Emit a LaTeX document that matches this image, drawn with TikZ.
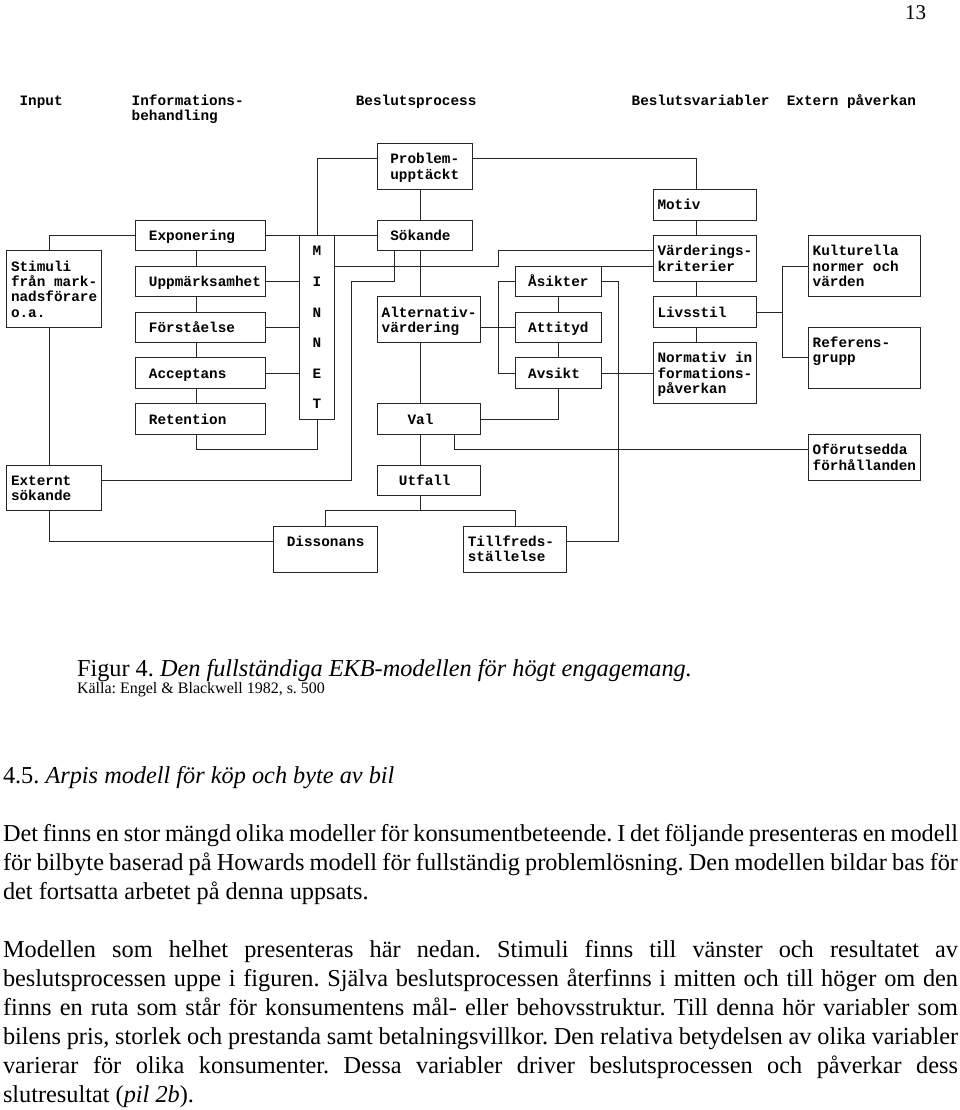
\documentclass[tikz,border=0pt]{standalone}
\usepackage{fontspec}
\setmainfont{Liberation Serif}
\newfontfamily\bodyfont{Liberation Serif}
\newfontfamily\cfont{Liberation Mono}
\frenchspacing
\newcommand\cx[1]{11+8.62*#1}
\newcommand\ry[1]{159+15.3*#1}
\newcommand\by[1]{164+15.3*#1}
\tikzset{
  bbox/.style={draw=black!85,line width=1pt,rectangle,anchor=north west,inner sep=0pt,outer sep=0pt},
  ctext/.style={anchor=base west,inner sep=0pt,outer sep=0pt,text=black,font=\cfont\bfseries\fontsize{14.36pt}{15.3pt}\selectfont},
  btext/.style={anchor=base west,inner sep=0pt,outer sep=0pt,text=black,font=\bodyfont\frenchspacing\fontsize{24.3pt}{29pt}\selectfont},
  conn/.style={draw=black!85,line width=1pt},
}
% name, x, y, width in columns, height in rows
\newcommand\bxa[5]{\node[bbox,minimum width={8.62pt*#4},minimum height={15.3pt*#5}] (#1) at (#2,#3) {};}
\newcommand\bx[5]{\bxa{#1}{\cx{#2}}{\ry{#3}}{#4}{#5}}
\newcommand\tx[4]{\node[ctext] (#1) at (\cx{#2},\by{#3}) {#4};}
\begin{document}
\begin{tikzpicture}[x=1pt,y=-1pt]
\fill[white] (0,0) rectangle (960,1110);
\useasboundingbox (0,0) rectangle (960,1110);
% grid coordinates
\foreach \r in {0,...,27} {\coordinate (R\r) at (0,\ry{\r});}
\foreach \c in {4,21,35,36,39,44,47,51,56,58,63,70,79,89} {\coordinate (X\c) at (\cx{\c.5},0);}
% page number
\node[anchor=base west,inner sep=0pt,font=\fontsize{21pt}{24pt}\selectfont] (pg) at (905,20) {13};
% header
\node[ctext] (h1) at (\cx{1},106) {Input};
\node[ctext] (h2) at (\cx{14},106) {Informations-};
\node[ctext] (h2b) at (\cx{14},121) {behandling};
\node[ctext] (h3) at (\cx{40},106) {Beslutsprocess};
\node[ctext] (h4) at (\cx{72},106) {Beslutsvariabler};
\node[ctext] (h5) at (\cx{90},106) {Extern påverkan};
% boxes
\bxa{prob}{\cx{42.5}}{143.7}{11}{3}
\bx{motiv}{74.5}{2}{12}{2}
\bxa{stim}{6.7}{\ry{6}}{11}{5}
\bx{expo}{14.5}{4}{15}{2}
\bx{uppm}{14.5}{7}{15}{2}
\bx{forst}{14.5}{10}{15}{2}
\bx{accept}{14.5}{13}{15}{2}
\bx{ret}{14.5}{16}{15}{2}
\bx{minnet}{33.5}{5}{4}{12}
\bx{sok}{42.5}{4}{11}{2}
\bx{alt}{42.5}{9}{12}{3}
\bx{val}{42.5}{16}{12}{2}
\bx{utfall}{42.5}{20}{12}{2}
\bx{asikt}{58.5}{7}{10}{2}
\bx{attityd}{58.5}{10}{10}{2}
\bx{avsikt}{58.5}{13}{10}{2}
\bx{varde}{74.5}{5}{12}{3}
\bx{livs}{74.5}{9}{12}{2}
\bx{norm}{74.5}{12}{12}{4}
\bx{kult}{92.5}{5}{13}{4}
\bx{ref}{92.5}{11}{13}{4}
\bx{ofor}{92.5}{18}{13}{3}
\bxa{ext}{6.7}{\ry{20}}{11}{3}
\bx{diss}{30.5}{24}{12}{3}
\bx{tillf}{52.5}{24}{12}{3}
% texts
\tx{tprob1}{44}{0}{Problem-}
\tx{tprob2}{44}{1}{upptäckt}
\tx{tmotiv}{75}{3}{Motiv}
\tx{tstim1}{0}{7}{Stimuli}
\tx{tstim2}{0}{8}{från mark-}
\tx{tstim3}{0}{9}{nadsförare}
\tx{tstim4}{0}{10}{o.a.}
\tx{texpo}{16}{5}{Exponering}
\tx{tuppm}{16}{8}{Uppmärksamhet}
\tx{tforst}{16}{11}{Förståelse}
\tx{taccept}{16}{14}{Acceptans}
\tx{tret}{16}{17}{Retention}
\tx{tm1}{35}{6}{M}
\tx{tm2}{35}{8}{I}
\tx{tm3}{35}{10}{N}
\tx{tm4}{35}{12}{N}
\tx{tm5}{35}{14}{E}
\tx{tm6}{35}{16}{T}
\tx{tsok}{44}{5}{Sökande}
\tx{talt1}{43}{10}{Alternativ-}
\tx{talt2}{43}{11}{värdering}
\tx{tval}{46}{17}{Val}
\tx{tutfall}{45}{21}{Utfall}
\tx{tasikt}{60}{8}{Åsikter}
\tx{tattityd}{60}{11}{Attityd}
\tx{tavsikt}{60}{14}{Avsikt}
\tx{tvarde1}{75}{6}{Värderings-}
\tx{tvarde2}{75}{7}{kriterier}
\tx{tlivs}{75}{10}{Livsstil}
\tx{tnorm1}{75}{13}{Normativ in}
\tx{tnorm2}{75}{14}{formations-}
\tx{tnorm3}{75}{15}{påverkan}
\tx{tkult1}{93}{6}{Kulturella}
\tx{tkult2}{93}{7}{normer och}
\tx{tkult3}{93}{8}{värden}
\tx{tref1}{93}{12}{Referens-}
\tx{tref2}{93}{13}{grupp}
\tx{tofor1}{93}{19}{Oförutsedda}
\tx{tofor2}{93}{20}{förhållanden}
\tx{text1}{0}{21}{Externt}
\tx{text2}{0}{22}{sökande}
\tx{tdiss}{32}{25}{Dissonans}
\tx{ttillf1}{53}{25}{Tillfreds-}
\tx{ttillf2}{53}{26}{ställelse}
% connectors
\draw[conn] (prob.west |- R0) -| (minnet.north);
\draw[conn] (prob.east |- R0) -| (X79 |- motiv.north);
\draw[conn] (prob.south -| X47) -- (sok.north -| X47);
\draw[conn] (stim.north -| X4) |- (expo.west);
\draw[conn] (stim.south -| X4) -- (ext.north -| X4);
\draw[conn] (expo.east) -- (sok.west);
\draw[conn] (expo.south -| X21) -- (uppm.north -| X21);
\draw[conn] (uppm.south -| X21) -- (forst.north -| X21);
\draw[conn] (forst.south -| X21) -- (accept.north -| X21);
\draw[conn] (accept.south -| X21) -- (ret.north -| X21);
\draw[conn] (uppm.east) -- (uppm.east -| minnet.west);
\draw[conn] (forst.east) -- (forst.east -| minnet.west);
\draw[conn] (accept.east) -- (accept.east -| minnet.west);
\draw[conn] (ret.south -| X21) |- (R19 -| minnet.south) -- (minnet.south);
\draw[conn] (minnet.east |- R7) -| (X56 |- R6) -- (varde.west |- R6);
\draw[conn] (asikt.north east) -- (varde.west |- R7);
\draw[conn] (sok.south -| X44) |- (X39 |- R8) |- (ext.east |- R21);
\draw[conn] (sok.south -| X47) -- (alt.north -| X47);
\draw[conn] (alt.south -| X47) -- (val.north -| X47);
\draw[conn] (val.south -| X47) -- (utfall.north -| X47);
\draw[conn] (alt.east |- R11) -- (attityd.west);
\draw[conn] (asikt.west) -| (X56 |- avsikt.west) -- (avsikt.west);
\draw[conn] (asikt.south -| X63) -- (attityd.north -| X63);
\draw[conn] (attityd.south -| X63) -- (avsikt.north -| X63);
\draw[conn] (avsikt.south -| X63) |- (val.east);
\draw[conn] (avsikt.east) -- (norm.west);
\draw[conn] (asikt.east) -| (X70 |- R25) -- (tillf.east |- R25);
\draw[conn] (val.south -| X51) |- (ofor.west |- R19);
\draw[conn] (utfall.south -| X47) -- (X47 |- R23);
\draw[conn] (diss.north -| X36) |- (X58 |- R23) -- (tillf.north -| X58);
\draw[conn] (ext.south -| X4) |- (diss.west |- R25);
\draw[conn] (motiv.south -| X79) -- (varde.north -| X79);
\draw[conn] (varde.south -| X79) -- (livs.north -| X79);
\draw[conn] (livs.south -| X79) -- (norm.north -| X79);
\draw[conn] (livs.east) -- (X89 |- livs.east);
\draw[conn] (kult.west |- R7) -| (X89 |- R13) -- (ref.west |- R13);
% caption and body text
\node[btext] (cap) at (77,676) {Figur 4. \textit{Den fullständiga EKB-modellen för högt engagemang.}};
\node[btext,font=\bodyfont\fontsize{16pt}{18pt}\selectfont] (src) at (77,693) {Källa: Engel \& Blackwell 1982, s. 500};
\node[btext] (sec) at (3,783) {4.5. \textit{Arpis modell för köp och byte av bil}};
\node[btext] (b1) at (3,841) {\makebox[955pt][s]{Det finns en stor mängd olika modeller för konsumentbeteende. I det följande presenteras en modell}};
\node[btext] (b2) at (3,870) {\makebox[955pt][s]{för bilbyte baserad på Howards modell för fullständig problemlösning. Den modellen bildar bas för}};
\node[btext] (b3) at (3,899) {det fortsatta arbetet på denna uppsats.};
\node[btext] (b4) at (3,957) {\makebox[955pt][s]{Modellen som helhet presenteras här nedan. Stimuli finns till vänster och resultatet av}};
\node[btext] (b5) at (3,986) {\makebox[955pt][s]{beslutsprocessen uppe i figuren. Själva beslutsprocessen återfinns i mitten och till höger om den}};
\node[btext] (b6) at (3,1015) {\makebox[955pt][s]{finns en ruta som står för konsumentens mål- eller behovsstruktur. Till denna hör variabler som}};
\node[btext] (b7) at (3,1044) {\makebox[955pt][s]{bilens pris, storlek och prestanda samt betalningsvillkor. Den relativa betydelsen av olika variabler}};
\node[btext] (b8) at (3,1073) {\makebox[955pt][s]{varierar för olika konsumenter. Dessa variabler driver beslutsprocessen och påverkar dess}};
\node[btext] (b9) at (3,1102) {slutresultat (\textit{pil 2b}).};
\end{tikzpicture}
\end{document}
